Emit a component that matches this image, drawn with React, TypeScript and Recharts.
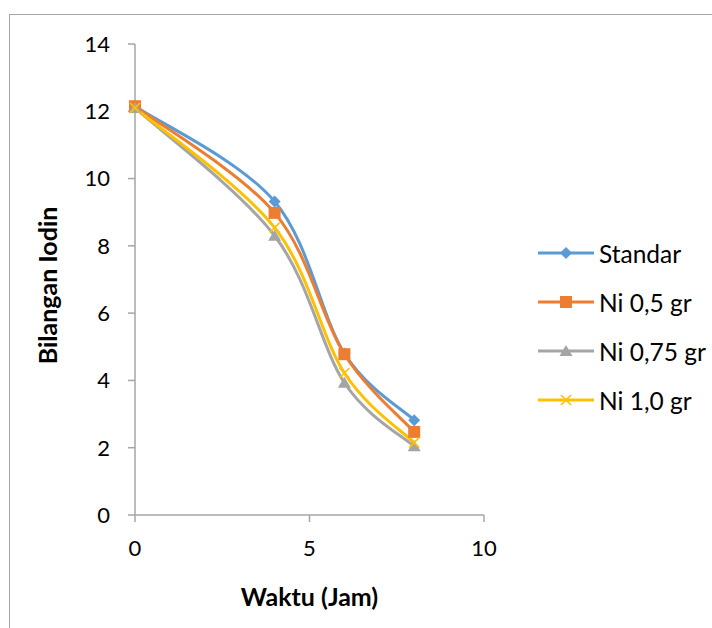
import React from 'react';
import { LineChart, Line, XAxis, YAxis } from 'recharts';

const hours = [0, 4, 6, 8];
const standar = [12.15, 9.32, 4.8, 2.82];
const ni05 = [12.15, 8.98, 4.78, 2.47];
const ni075 = [12.1, 8.3, 3.93, 2.04];
const ni10 = [12.1, 8.54, 4.22, 2.15];

const seriesNames = ['Standar', 'Ni 0,5 gr', 'Ni 0,75 gr', 'Ni 1,0 gr'];
const seriesKeys = ['standar', 'ni05', 'ni075', 'ni10'];
const seriesColors = ['#5B9BD5', '#ED7D31', '#A5A5A5', '#FFC000'];
const seriesMarkers = ['diamond', 'square', 'triangle', 'cross'];

const xTicks = [0, 5, 10];
const yTicks = [0, 2, 4, 6, 8, 10, 12, 14];

const data = hours.map((h, i) => ({
  h,
  standar: standar[i],
  ni05: ni05[i],
  ni075: ni075[i],
  ni10: ni10[i],
}));

const FONT = 'Lato, "Open Sans", sans-serif';
const AXIS = '#a6a6a6';

// Excel-like smoothed line (Catmull-Rom style Bezier)
function excelCurve(context: any) {
  let pts: number[][] = [];
  return {
    areaStart() {},
    areaEnd() {},
    lineStart() {
      pts = [];
    },
    point(x: number, y: number) {
      pts.push([+x, +y]);
    },
    lineEnd() {
      const n = pts.length;
      if (!n) return;
      context.moveTo(pts[0][0], pts[0][1]);
      for (let i = 0; i < n - 1; i++) {
        const p0 = pts[Math.max(i - 1, 0)];
        const p1 = pts[i];
        const p2 = pts[i + 1];
        const p3 = pts[Math.min(i + 2, n - 1)];
        context.bezierCurveTo(
          p1[0] + (p2[0] - p0[0]) / 6,
          p1[1] + (p2[1] - p0[1]) / 6,
          p2[0] - (p3[0] - p1[0]) / 6,
          p2[1] - (p3[1] - p1[1]) / 6,
          p2[0],
          p2[1]
        );
      }
    },
  };
}

function Marker({ kind, color, cx, cy }: { kind: string; color: string; cx: number; cy: number }) {
  if (kind === 'diamond') {
    const r = 6;
    return <polygon points={`${cx},${cy - r} ${cx + r},${cy} ${cx},${cy + r} ${cx - r},${cy}`} fill={color} />;
  }
  if (kind === 'square') {
    const r = 6;
    return <rect x={cx - r} y={cy - r} width={2 * r} height={2 * r} fill={color} />;
  }
  if (kind === 'triangle') {
    const w = 6.5;
    return <polygon points={`${cx},${cy - 6} ${cx + w},${cy + 5} ${cx - w},${cy + 5}`} fill={color} />;
  }
  const r = 5;
  return (
    <g stroke={color} strokeWidth={1.6}>
      <line x1={cx - r} y1={cy - r} x2={cx + r} y2={cy + r} />
      <line x1={cx - r} y1={cy + r} x2={cx + r} y2={cy - r} />
    </g>
  );
}

const makeDot = (kind: string, color: string) => (props: any) => {
  const { cx, cy, index } = props;
  if (cx == null || cy == null) return <g key={`d-${kind}-${index}`} />;
  return (
    <g key={`d-${kind}-${index}`}>
      <Marker kind={kind} color={color} cx={cx} cy={cy} />
    </g>
  );
};

function LegendBox() {
  return (
    <svg
      width={182}
      height={220}
      style={{ position: 'absolute', left: 530, top: 225 }}
    >
      {seriesNames.map((name, i) => {
        const y = 28 + i * 49;
        return (
          <g key={name}>
            <line x1={8} x2={64} y1={y} y2={y} stroke={seriesColors[i]} strokeWidth={3} />
            <Marker kind={seriesMarkers[i]} color={seriesColors[i]} cx={36} cy={y} />
            <text x={69} y={y} dominantBaseline="central" fontFamily={FONT} fontSize={24.5} fill="#000">
              {name}
            </text>
          </g>
        );
      })}
    </svg>
  );
}

export default function App() {
  return (
    <div
      style={{
        position: 'absolute',
        left: 0,
        top: 0,
        width: 712,
        height: 628,
        overflow: 'hidden',
        background: '#fff',
      }}
    >
      <div
        style={{
          position: 'absolute',
          left: 9,
          top: 14,
          width: 800,
          height: 700,
          border: '1px solid #a6a6a6',
        }}
      />
      <div style={{ position: 'absolute', left: 0, top: 0 }}>
        <LineChart
          width={712}
          height={628}
          data={data}
          margin={{ top: 44, right: 228, bottom: 53, left: 0 }}
        >
          <XAxis
            dataKey="h"
            type="number"
            domain={[0, 10]}
            ticks={xTicks}
            stroke={AXIS}
            strokeWidth={1.5}
            tickSize={7}
            tickMargin={18}
            height={60}
            tick={{ fill: '#000', fontSize: 22, fontFamily: FONT }}
            label={(p: any) => {
              const vb = p.viewBox;
              return (
                <text
                  x={vb.x + vb.width / 2}
                  y={596}
                  textAnchor="middle"
                  dominantBaseline="central"
                  fontFamily={FONT}
                  fontWeight="bold"
                  fontSize={25}
                  fill="#000"
                >
                  Waktu (Jam)
                </text>
              );
            }}
          />
          <YAxis
            type="number"
            domain={[0, 14]}
            ticks={yTicks}
            width={135}
            stroke={AXIS}
            strokeWidth={1.5}
            tickSize={7}
            tickMargin={18}
            tick={{ fill: '#000', fontSize: 22, fontFamily: FONT }}
            label={(p: any) => {
              const vb = p.viewBox;
              const cy = vb.y + vb.height / 2 + 6;
              return (
                <text
                  x={47}
                  y={cy}
                  transform={`rotate(-90, 47, ${cy})`}
                  textAnchor="middle"
                  dominantBaseline="central"
                  fontFamily={FONT}
                  fontWeight="bold"
                  fontSize={25}
                  fill="#000"
                >
                  Bilangan Iodin
                </text>
              );
            }}
          />
          {seriesKeys.map((k, i) => (
            <Line
              key={k}
              dataKey={k}
              name={seriesNames[i]}
              type={excelCurve as any}
              stroke={seriesColors[i]}
              strokeWidth={3}
              dot={makeDot(seriesMarkers[i], seriesColors[i])}
              activeDot={false}
              isAnimationActive={false}
            />
          ))}
        </LineChart>
      </div>
      <LegendBox />
    </div>
  );
}
